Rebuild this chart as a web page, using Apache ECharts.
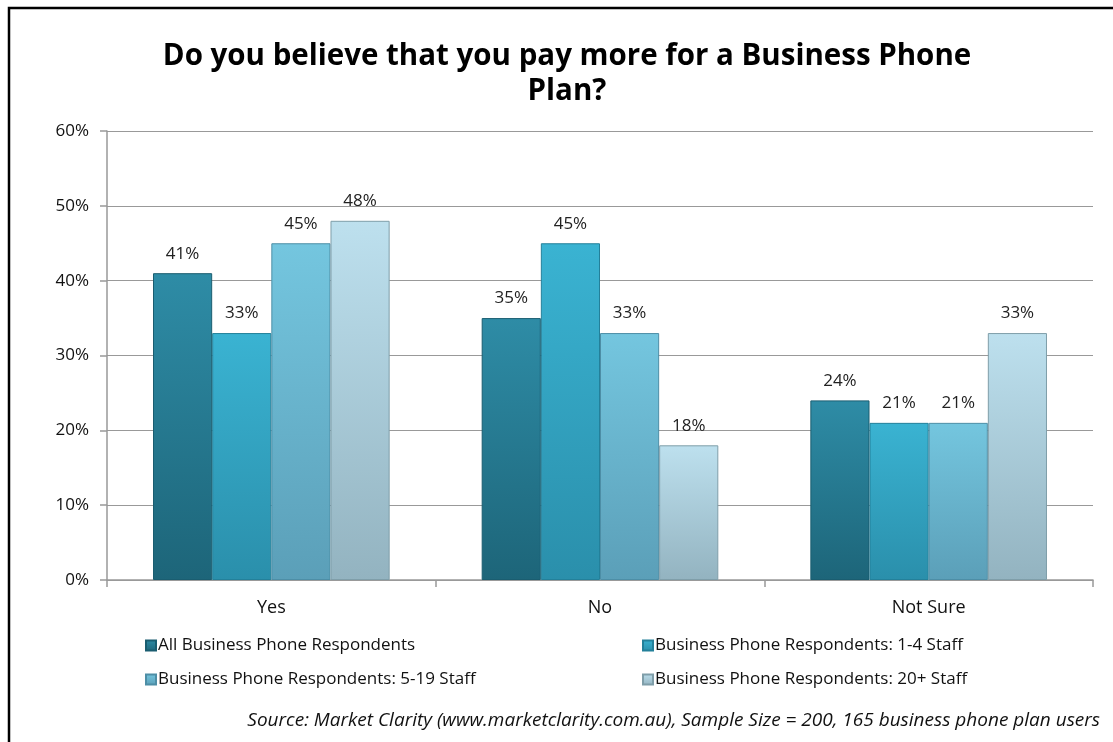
<!DOCTYPE html>
<html>
<head>
<meta charset="utf-8">
<script src="https://cdn.jsdelivr.net/npm/echarts@6/dist/echarts.min.js"></script>
<style>
  html, body { margin: 0; padding: 0; background: #fff; }
  #chart { width: 1113px; height: 742px; }
</style>
</head>
<body>
<div id="chart"></div>
<script>
// Survey answers and respondent groups
const categories = ['Yes', 'No', 'Not Sure'];
const seriesNames = [
  'All Business Phone Respondents',
  'Business Phone Respondents: 1-4 Staff',
  'Business Phone Respondents: 5-19 Staff',
  'Business Phone Respondents: 20+ Staff'
];
const allRespondents = [41, 35, 24];
const staff1to4 = [33, 45, 21];
const staff5to19 = [45, 33, 21];
const staff20plus = [48, 18, 33];
const yTicks = [0, 10, 20, 30, 40, 50, 60];

// top / bottom / edge shades for each group's bars
const shades = [
  ['#2e8ca6', '#1d6579', '#1a5d70'],
  ['#3ab3d2', '#2a8fab', '#23809a'],
  ['#74c6df', '#5b9fb8', '#4d8ea6'],
  ['#bde0ee', '#93b3c0', '#7f9ea9']
];

const values = [allRespondents, staff1to4, staff5to19, staff20plus];

const FONT = '"Open Sans", "Liberation Sans", sans-serif';

const chart = echarts.init(document.getElementById('chart'));

const series = seriesNames.map((name, i) => ({
  name: name,
  type: 'bar',
  data: values[i],
  barGap: '0%',
  barCategoryGap: '28%',
  itemStyle: {
    color: new echarts.graphic.LinearGradient(0, 0, 0, 1, [
      { offset: 0, color: shades[i][0] },
      { offset: 1, color: shades[i][1] }
    ]),
    borderColor: shades[i][2],
    borderWidth: 1
  },
  label: {
    show: true,
    position: 'top',
    distance: 11,
    formatter: p => p.value + '%',
    fontFamily: FONT,
    fontSize: 17,
    color: '#222'
  }
}));

const legendText = { fontFamily: FONT, fontSize: 17, color: '#111', padding: [0, 0, 0, -3] };

chart.setOption({
  animation: false,
  backgroundColor: '#fff',
  title: {
    text: 'Do you believe that you pay more for a Business Phone\nPlan?',
    left: 562,
    top: 34,
    textAlign: 'center',
    textStyle: {
      fontFamily: FONT,
      fontWeight: 'bold',
      fontSize: 29.5,
      lineHeight: 35,
      color: '#000'
    }
  },
  grid: { left: 107, right: 20, top: 131, bottom: 162, containLabel: false },
  legend: [
    {
      data: [seriesNames[0], seriesNames[2]],
      orient: 'vertical',
      left: 140,
      top: 632,
      itemWidth: 10,
      itemHeight: 10,
      itemGap: 17,
      icon: 'rect',
      textStyle: legendText
    },
    {
      data: [seriesNames[1], seriesNames[3]],
      orient: 'vertical',
      left: 637,
      top: 632,
      itemWidth: 10,
      itemHeight: 10,
      itemGap: 17,
      icon: 'rect',
      textStyle: legendText
    }
  ],
  xAxis: {
    type: 'category',
    data: categories,
    axisLine: { lineStyle: { color: '#999', width: 1.5 } },
    axisTick: { show: true, length: 7, lineStyle: { color: '#999', width: 1.5 } },
    axisLabel: { fontFamily: FONT, fontSize: 18, color: '#111', margin: 19 }
  },
  yAxis: {
    type: 'value',
    min: 0,
    max: 60,
    interval: 10,
    axisLine: { show: true, lineStyle: { color: '#999', width: 1.5 } },
    axisTick: { show: true, length: 7, lineStyle: { color: '#999', width: 1.5 } },
    splitLine: { lineStyle: { color: '#999', width: 1.2 } },
    axisLabel: {
      fontFamily: FONT, fontSize: 17, color: '#111', margin: 18,
      formatter: v => (yTicks.includes(v) ? v + '%' : '')
    }
  },
  series: series,
  graphic: [
    {
      // frame along the top and left edges
      type: 'polyline',
      shape: { points: [[9, 760], [9, 8], [1130, 8]] },
      style: { stroke: '#000', lineWidth: 2.5, fill: null },
      silent: true
    },
    {
      type: 'text',
      right: 13,
      top: 711,
      style: {
        text: 'Source: Market Clarity (www.marketclarity.com.au), Sample Size = 200, 165 business phone plan users',
        font: 'italic 19px ' + FONT,
        fill: '#111'
      }
    }
  ]
});
</script>
</body>
</html>
